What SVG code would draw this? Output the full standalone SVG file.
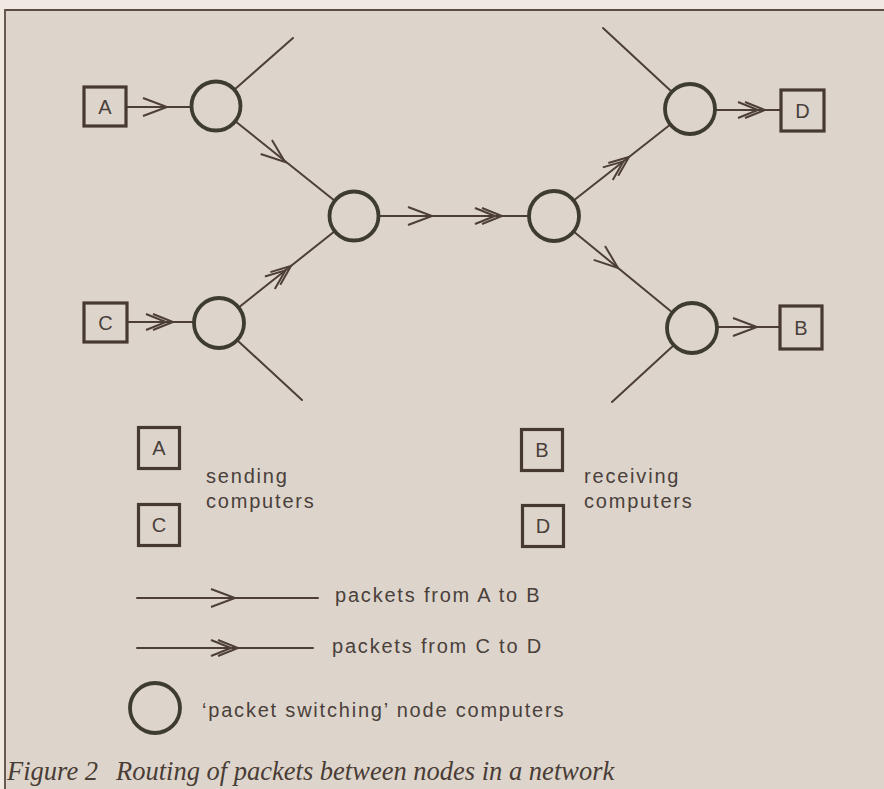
<svg xmlns="http://www.w3.org/2000/svg" width="884" height="789" viewBox="0 0 884 789">
<style>
.bg{fill:#ddd5cb}
.ln{stroke:#4d3f38;stroke-width:2;fill:none;stroke-linecap:round}
.ch{stroke:#4d3f38;stroke-width:2;fill:none;stroke-linejoin:miter}
.nd{fill:none;stroke:#3e3b33;stroke-width:3.8}
.bx{fill:none;stroke:#463833;stroke-width:3.2}
.lt{font-family:"Liberation Sans",Arial,sans-serif;font-size:20px;fill:#4a403b;text-anchor:middle}
.tx{font-family:"Liberation Sans",Arial,sans-serif;font-size:20px;fill:#4a403b;letter-spacing:1.8px}
.cap{font-family:"Liberation Serif","Times New Roman",serif;font-style:italic;font-size:26.5px;fill:#4a3c36}
</style>
<defs>
<path id="c1" class="ch" d="M-24,-9 L0,0 L-24,9"/>
<g id="c2" class="ch"><path d="M-27,-8 L-7,0 L-27,8"/><path d="M-20,-8 L0,0 L-20,8"/></g>
</defs>
<rect x="0" y="0" width="884" height="789" fill="#efe9e1"/>
<rect class="bg" x="5" y="10" width="879" height="779"/>
<path d="M5,789 L5,10 L884,10" fill="none" stroke="#5a4c44" stroke-width="1.8"/>

<g id="connectors">
<line class="ln" x1="127" y1="107" x2="191" y2="107"/>
<use href="#c1" transform="translate(167,107)"/>
<line class="ln" x1="234" y1="90" x2="293" y2="38"/>
<line class="ln" x1="235" y1="121" x2="335" y2="201"/>
<use href="#c1" transform="translate(285,162) rotate(38.8)"/>
<line class="ln" x1="128" y1="322" x2="194" y2="322"/>
<use href="#c2" transform="translate(173,322)"/>
<line class="ln" x1="238" y1="308" x2="335" y2="231"/>
<use href="#c2" transform="translate(291,266) rotate(-38.4)"/>
<line class="ln" x1="237" y1="340" x2="302" y2="400"/>
<line class="ln" x1="379" y1="216" x2="529" y2="216"/>
<use href="#c1" transform="translate(432,216)"/>
<use href="#c2" transform="translate(502,216)"/>
<line class="ln" x1="573" y1="201" x2="671" y2="124"/>
<use href="#c2" transform="translate(629,157) rotate(-38.2)"/>
<line class="ln" x1="573" y1="231" x2="673" y2="313"/>
<use href="#c1" transform="translate(618,268) rotate(39)"/>
<line class="ln" x1="672" y1="92" x2="603" y2="28"/>
<line class="ln" x1="715" y1="110" x2="781" y2="110"/>
<use href="#c2" transform="translate(765,110)"/>
<line class="ln" x1="717" y1="327" x2="780" y2="327"/>
<use href="#c1" transform="translate(757,327)"/>
<line class="ln" x1="674" y1="345" x2="612" y2="402"/>
</g>

<g id="box-A"><rect class="bx" x="84" y="87" width="42" height="39"/><text class="lt" x="105" y="114">A</text></g>
<g id="box-C"><rect class="bx" x="84" y="303" width="43" height="39"/><text class="lt" x="105.5" y="330">C</text></g>
<g id="box-D"><rect class="bx" x="781" y="90" width="43" height="41"/><text class="lt" x="802.5" y="118">D</text></g>
<g id="box-B"><rect class="bx" x="780" y="306" width="42" height="43"/><text class="lt" x="801" y="335">B</text></g>

<g id="node-1"><circle class="nd" cx="216" cy="106" r="24.5"/></g>
<g id="node-2"><circle class="nd" cx="354" cy="216" r="24.5"/></g>
<g id="node-3"><circle class="nd" cx="219" cy="323" r="25"/></g>
<g id="node-4"><circle class="nd" cx="554" cy="216" r="25"/></g>
<g id="node-5"><circle class="nd" cx="690" cy="109" r="25"/></g>
<g id="node-6"><circle class="nd" cx="692" cy="328" r="25"/></g>

<g id="legend-A"><rect class="bx" x="138.5" y="427.5" width="41" height="41"/><text class="lt" x="159" y="455">A</text></g>
<g id="legend-C"><rect class="bx" x="138.5" y="504.5" width="41" height="41"/><text class="lt" x="159" y="532">C</text></g>
<g id="legend-sending"><text class="tx" x="206" y="483">sending</text><text class="tx" x="206" y="508">computers</text></g>
<g id="legend-B"><rect class="bx" x="521.5" y="429.5" width="41" height="41"/><text class="lt" x="542" y="457">B</text></g>
<g id="legend-D"><rect class="bx" x="522.5" y="505.5" width="41" height="41"/><text class="lt" x="543" y="533">D</text></g>
<g id="legend-receiving"><text class="tx" x="584" y="483">receiving</text><text class="tx" x="584" y="508">computers</text></g>

<g id="legend-AB"><line class="ln" x1="137" y1="598" x2="318" y2="598"/><use href="#c1" transform="translate(235,598)"/><text class="tx" x="335" y="602">packets from A to B</text></g>
<g id="legend-CD"><line class="ln" x1="137" y1="648" x2="313" y2="648"/><use href="#c2" transform="translate(238,648)"/><text class="tx" x="332" y="653">packets from C to D</text></g>
<g id="legend-node"><circle class="nd" cx="155" cy="708" r="25"/><text class="tx" x="202" y="717">‘packet switching’ node computers</text></g>

<g id="caption"><text class="cap" x="7" y="780">Figure 2<tspan x="116">Routing of packets between nodes in a network</tspan></text></g>
</svg>
